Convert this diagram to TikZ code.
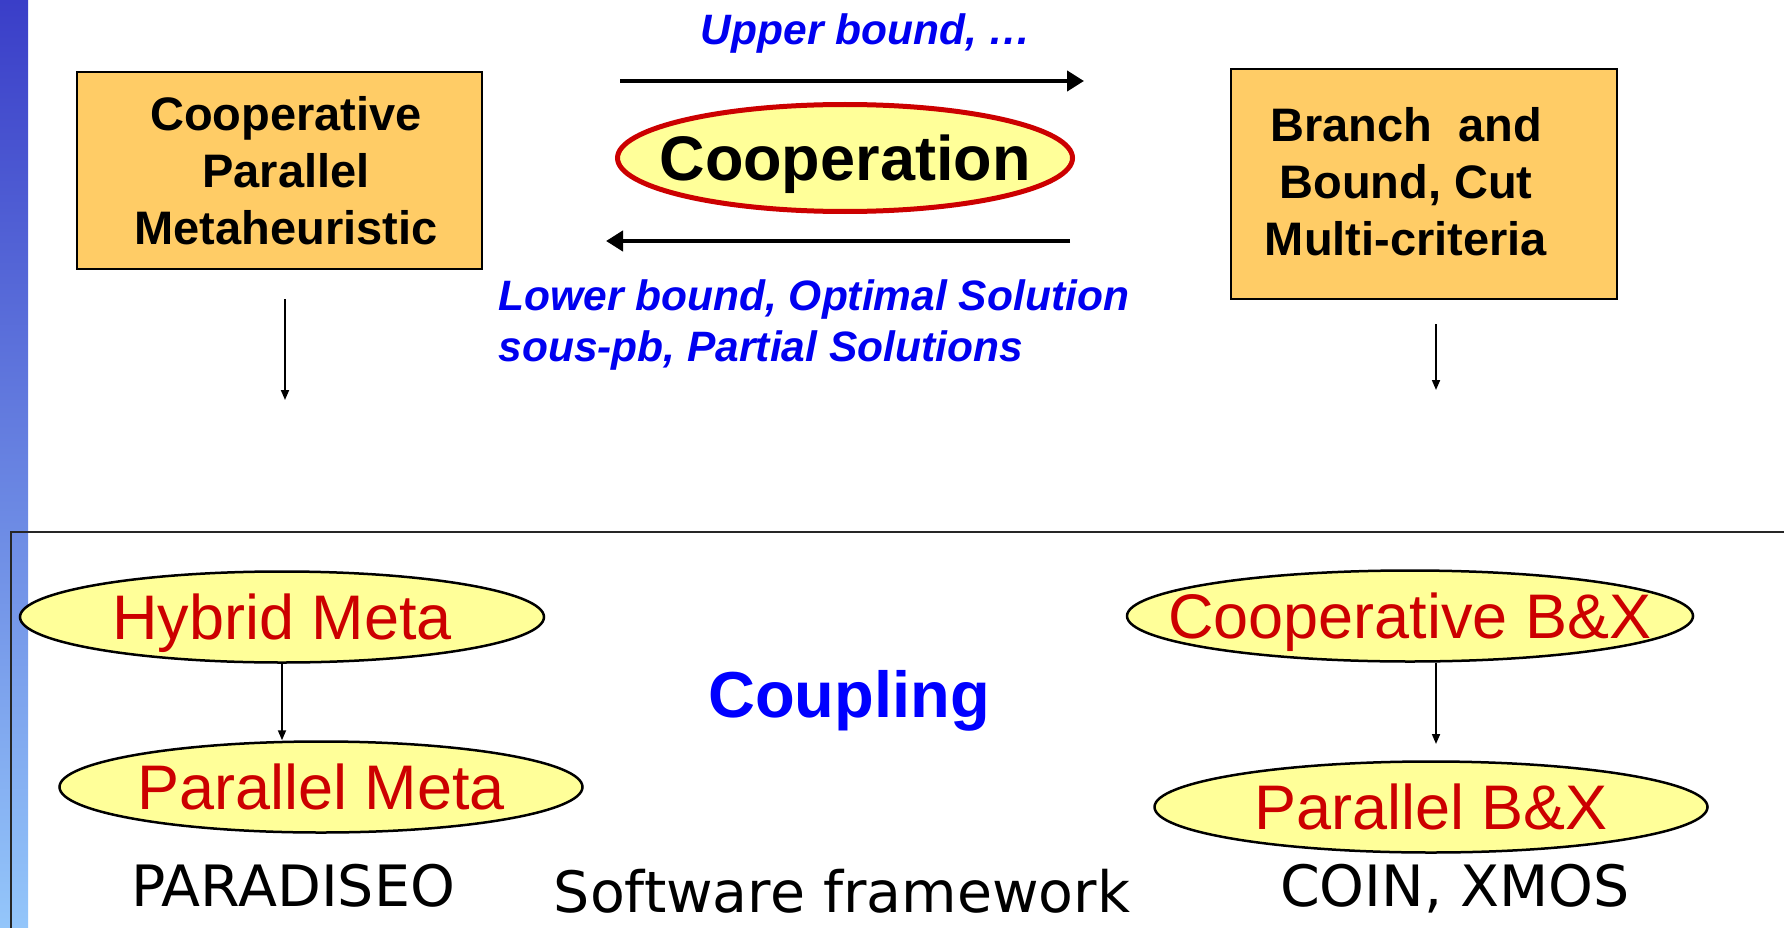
\documentclass[tikz,border=0pt]{standalone}
\usepackage{fontspec}
\setmainfont{Liberation Sans}
\newfontfamily\toolfont{DejaVu Sans}
\usetikzlibrary{shapes.geometric,arrows.meta}
\definecolor{boxorange}{HTML}{FFCC66}
\definecolor{paleyellow}{HTML}{FFFF99}
\definecolor{darkred}{HTML}{CC0000}
\definecolor{linkblue}{HTML}{0000F0}
\definecolor{bartop}{RGB}{58,62,200}
\definecolor{barbottom}{RGB}{148,198,250}
% text of fixed-size ellipses: zero width so the outline keeps its given size
\newcommand{\inbubble}[1]{\makebox[0pt]{#1}}
\begin{document}
\begin{tikzpicture}[x=1pt,y=-1pt,
  box/.style={draw=black, line width=1.5pt, fill=boxorange, inner sep=0pt},
  boxtext/.style={font=\fontsize{47}{57}\selectfont\bfseries, align=center},
  bubble/.style={ellipse, draw=black, line width=2.5pt, fill=paleyellow, inner sep=0pt,
    minimum height=91pt, font=\fontsize{63}{70}\selectfont, text=darkred,
    text height=45pt, text depth=0pt},
  flow/.style={line width=4.5pt, -{Triangle[length=17pt,width=20pt]}},
  downarrow/.style={line width=1.8pt, -{Triangle[length=10pt,width=8pt]}},
  note/.style={font=\fontsize{42.5}{51}\selectfont\bfseries\itshape, text=linkblue, align=left},
  tool/.style={font=\toolfont\fontsize{57}{60}\selectfont}
]
\useasboundingbox (0,0) rectangle (1784,928);
\fill[white] (0,0) rectangle (1784,928);

% side bar
\shade[top color=bartop, bottom color=barbottom] (0,0) rectangle (28,928);

% frame of the lower part
\draw[line width=2pt, black!85] (11,928) -- (11,532) -- (1784,532);

% upper part: the two approaches and their cooperation
\node[box, minimum width=405pt, minimum height=197pt] (lbox) at (279.5,170.5) {};
\node[boxtext] (lboxtext) at (286,171) {Cooperative\\Parallel\\Metaheuristic};

\node[box, minimum width=386pt, minimum height=230pt] (rbox) at (1424,184) {};
\node[boxtext] (rboxtext) at (1406,182) {Branch\ \ and\\Bound, Cut\\Multi-criteria};

\node[ellipse, draw=darkred, line width=5pt, fill=paleyellow, inner sep=0pt,
  minimum width=455pt, minimum height=107pt, text height=45pt, text depth=0pt,
  font=\fontsize{63}{70}\selectfont\bfseries] (coop) at (845,158) {\inbubble{Cooperation}};

\coordinate (ubs) at (620,81);
\coordinate (ube) at (1084,81);
\draw[flow] (ubs) -- (ube);
\coordinate (lbs) at (1070,241);
\coordinate (lbe) at (606,241);
\draw[flow] (lbs) -- (lbe);

\node[note] (upper) at (866,34) {Upper bound, \ldots};
\node[note, anchor=west] (lower) at (495,325) {Lower bound, Optimal Solution\\sous-pb, Partial Solutions};

\coordinate (ld1) at (285,299);
\coordinate (ld2) at (285,400);
\draw[downarrow] (ld1) -- (ld2);
\coordinate (rd1) at (1436,324);
\coordinate (rd2) at (1436,390);
\draw[downarrow] (rd1) -- (rd2);

% lower part: coupling of the software frameworks
\node[bubble, minimum width=524pt] (hyb) at (282,617) {\inbubble{Hybrid Meta}};
\node[bubble, minimum width=523pt] (pm) at (321,787) {\inbubble{Parallel Meta}};
\draw[downarrow] (hyb.south) -- (hyb.south |- pm.north);

\node[bubble, minimum width=566pt] (cbx) at (1410,616) {\inbubble{Cooperative B\&X}};
\node[bubble, minimum width=553pt] (pbx) at (1431,807) {\inbubble{Parallel B\&X}};
\coordinate (cbxend) at (1436,744);
\draw[downarrow] (cbxend |- cbx.south) -- (cbxend);

\node[font=\fontsize{65}{70}\selectfont\bfseries, text=blue] (coupling) at (849,701) {Coupling};

\node[tool] (paradiseo) at (293,886) {PARADISEO};
\node[tool] (framework) at (842,891) {Software framework};
\node[tool] (coin) at (1455,889) {COIN, XMOS};
\end{tikzpicture}
\end{document}
